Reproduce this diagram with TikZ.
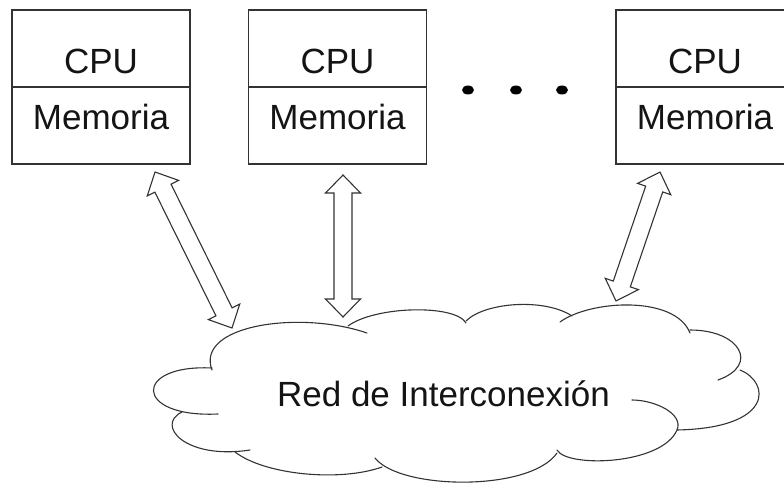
\documentclass[tikz,border=0pt]{standalone}
\usepackage{fontspec}
\setmainfont{Liberation Sans}
\usetikzlibrary{calc,shapes.geometric}

\tikzset{
  unit/.style={draw=black!80, line width=1.2pt, minimum width=178pt,
    minimum height=154pt, inner sep=0pt, fill=white},
  lbl/.style={font=\fontsize{35}{42}\selectfont, text=black!92,
    inner sep=0pt, anchor=base},
  busarrow/.style={draw=black!80, line width=1.1pt, fill=white, line join=miter},
  cloudline/.style={draw=black!80, line width=1.1pt, line cap=round},
  dotmark/.style={ellipse, fill=black, draw=none, minimum width=12pt,
    minimum height=9pt, inner sep=0pt}
}

% Hollow block arrow with a head at both ends, from #1 to #2
\newcommand{\bidiarrow}[2]{%
  \path ($(#1)!18pt!(#2)$) coordinate (ha) ($(#2)!18pt!(#1)$) coordinate (hb);
  \draw[busarrow] (#1) -- ($(ha)!17.5pt!-90:(#2)$) -- ($(ha)!9pt!-90:(#2)$)
    -- ($(hb)!9pt!90:(#1)$) -- ($(hb)!17.5pt!90:(#1)$) -- (#2)
    -- ($(hb)!17.5pt!-90:(#1)$) -- ($(hb)!9pt!-90:(#1)$)
    -- ($(ha)!9pt!90:(#2)$) -- ($(ha)!17.5pt!90:(#2)$) -- cycle;}

\begin{document}
\begin{tikzpicture}[x=1pt, y=-1pt]
\useasboundingbox (0,0) rectangle (784,484);
\clip (0,0) rectangle (784,484);

% processing units: CPU over local memory
\foreach \cx/\nm in {101/m1, 337.5/m2, 705/m3}{
  \node[unit] (\nm) at (\cx,87) {};
  \draw[draw=black!80, line width=1.2pt] (\nm.west) -- (\nm.east);
  \node[lbl] (\nm cpu) at ($(\nm.center)+(0,-13.5)$) {CPU};
  \node[lbl] (\nm mem) at ($(\nm.center)+(0,43)$) {Memoria};
}

% ellipsis between the units
\node[dotmark] (d1) at (468,90) {};
\node[dotmark] (d2) at (516,90) {};
\node[dotmark] (d3) at (562,90) {};

% interconnection network (cloud outline, bump by bump)
\draw[cloudline] (212,368) .. controls (133,364) and (133,418) .. (218,414);
\draw[cloudline] (182,412) .. controls (155,425) and (185,460) .. (250,450);
\draw[cloudline] (235,452) .. controls (265,475) and (340,482) .. (382,467);
\draw[cloudline] (375,458) .. controls (400,490) and (530,492) .. (557,453);
\draw[cloudline] (557,450) .. controls (567,468) and (662,465) .. (677,430)
                           .. controls (684,414) and (655,400) .. (632,400);
\draw[cloudline] (740,370) .. controls (770,382) and (775,428) .. (677,430);
\draw[cloudline] (690,330) .. controls (740,330) and (760,365) .. (718,380);
\draw[cloudline] (560,322) .. controls (590,300) and (675,295) .. (690,333);
\draw[cloudline] (466,321) .. controls (485,302) and (545,298) .. (572,316);
\draw[cloudline] (348,326) .. controls (375,306) and (455,304) .. (466,323);
\draw[cloudline] (212,370) .. controls (195,325) and (300,310) .. (367,333);
\node[lbl] (net) at (443.5,406.5) {Red de Interconexión};

% links between each unit and the network
\coordinate (a1t) at (155,172);  \coordinate (a1b) at (232,328);
\coordinate (a2t) at (343,175);  \coordinate (a2b) at (343,317);
\coordinate (a3t) at (660,172);  \coordinate (a3b) at (616,301);
\bidiarrow{a1t}{a1b}
\bidiarrow{a2t}{a2b}
\bidiarrow{a3t}{a3b}
\end{tikzpicture}
\end{document}
